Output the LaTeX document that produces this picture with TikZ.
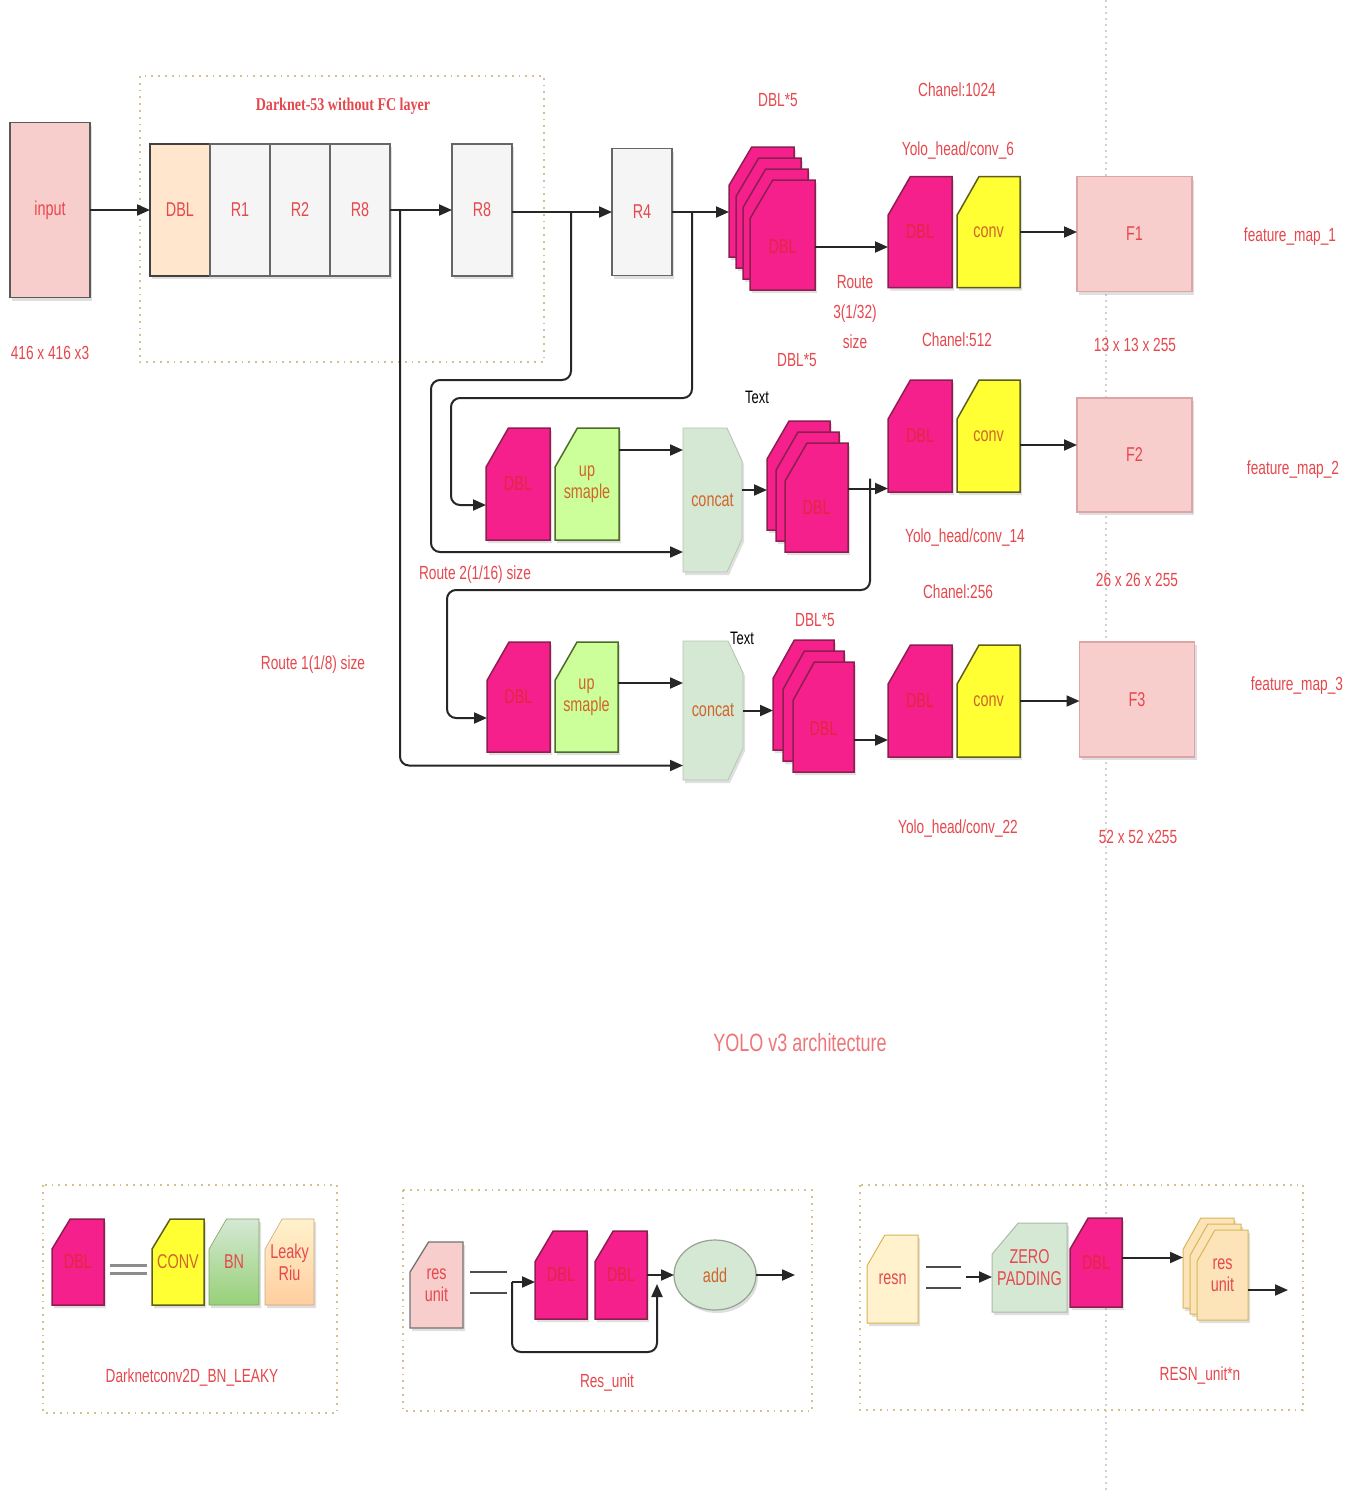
\documentclass[tikz,border=0pt]{standalone}
\usepackage{fontspec}
\setmainfont{Liberation Sans}[FakeStretch=0.72]
\newfontfamily\serifcond{Liberation Serif}[FakeStretch=0.78]
\usetikzlibrary{arrows.meta, positioning, calc, shapes.geometric, shadows}

\definecolor{dblpink}{HTML}{F5208C}
\definecolor{dblline}{HTML}{8C1F50}
\definecolor{dbltxt}{HTML}{E3263F}
\definecolor{convyel}{HTML}{FFFF33}
\definecolor{convline}{HTML}{5E5E1C}
\definecolor{upgreen}{HTML}{CCFF99}
\definecolor{upline}{HTML}{4F6B2A}
\definecolor{catgreen}{HTML}{D5E8D4}
\definecolor{fpink}{HTML}{F8CECC}
\definecolor{fline}{HTML}{DDA5A5}
\definecolor{peach}{HTML}{FFE6CC}
\definecolor{cellgray}{HTML}{F5F5F5}
\definecolor{lblred}{HTML}{E5484D}
\definecolor{txtorange}{HTML}{D0652A}
\definecolor{dotcol}{HTML}{D2C08E}
\definecolor{resnyel}{HTML}{FFF2CC}
\definecolor{resnline}{HTML}{D6B656}
\definecolor{bntop}{HTML}{D5E8D4}
\definecolor{bnbot}{HTML}{97D077}
\definecolor{lktop}{HTML}{FFF2CC}
\definecolor{lkbot}{HTML}{FFCE9F}
\definecolor{ruyel}{HTML}{FCE4B8}

\tikzset{
  arr/.style={-{Triangle[length=13pt,width=11pt]}, line width=2pt, draw=black!85},
  wire/.style={arr, rounded corners=9pt},
  shd/.style={drop shadow={opacity=0.25, shadow xshift=2pt, shadow yshift=-3pt}},
  lbl/.style={text=lblred, font=\fontsize{19}{22}\selectfont, align=center},
  boxtxt/.style={font=\fontsize{20}{22}\selectfont, align=center, inner sep=0pt, outer sep=0pt},
  cell/.style={boxtxt, shd, draw=black!60, line width=1.3pt, minimum width=60pt, minimum height=132pt, text=lblred},
  dblsh/.style={shd, fill=dblpink, draw=dblline, line width=1.5pt},
  convsh/.style={shd, fill=convyel, draw=convline, line width=1.5pt},
  upsh/.style={shd, fill=upgreen, draw=upline, line width=1.5pt},
  fbox/.style={boxtxt, shd, fill=fpink, draw=fline, line width=1.3pt, minimum width=115pt, minimum height=115pt, text=lblred},
  frame/.style={draw=dotcol, line width=1.8pt, dash pattern=on 1.8pt off 5pt},
  eqline/.style={line width=2.4pt, draw=black!70},
}

% box with the top left corner cut off: name, x, y, w, h, path style, text style, text
\newcommand{\cutbox}[8]{%
  \draw[#6] ({#2-#4/2},{#3-#5/2+0.35*#5}) -- ({#2-#4/2+0.35*#4},{#3-#5/2})
    -- ({#2+#4/2},{#3-#5/2}) -- ({#2+#4/2},{#3+#5/2}) -- ({#2-#4/2},{#3+#5/2}) -- cycle;
  \node[boxtxt, #7, minimum width=#4pt, minimum height=#5pt] (#1) at (#2,#3) {#8};
}
% concat block: name, x, y, w, h
\newcommand{\catbox}[5]{%
  \draw[shd, fill=catgreen, draw=catgreen!85!black, line width=0.8pt]
    ({#2-#4/2},{#3-#5/2}) -- ({#2+#4/2-15},{#3-#5/2}) -- ({#2+#4/2},{#3-#5/2+0.23*#5})
    -- ({#2+#4/2},{#3+#5/2-0.23*#5}) -- ({#2+#4/2-15},{#3+#5/2}) -- ({#2-#4/2},{#3+#5/2}) -- cycle;
  \node[boxtxt, text=txtorange, minimum width=#4pt, minimum height=#5pt] (#1) at (#2,#3) {concat};
}

\begin{document}
\begin{tikzpicture}[x=1pt, y=-1pt]
  \useasboundingbox[fill=white] (0,0) rectangle (1354,1492);
  \draw[black!18, line width=1.2pt, dash pattern=on 2pt off 4pt] (1106,0) -- (1106,1492);

  % backbone
  \draw[frame] (140,76) rectangle (544,362);
  \node[text=lblred, font=\serifcond\bfseries\fontsize{18}{20}\selectfont] (dktitle) at (343,106) {Darknet-53 without FC layer};
  \node[boxtxt, shd, draw=black!65, line width=1.6pt, fill=fpink, minimum width=80pt, minimum height=175pt, text=lblred] (inp) at (50,210) {input};
  \node[lbl] (inpsize) at (50,353) {416 x 416 x3};
  \node[cell, fill=peach, draw=black!75] (dk0) at (180,210) {DBL};
  \node[cell, fill=cellgray] (dk1) at (240,210) {R1};
  \node[cell, fill=cellgray] (dk2) at (300,210) {R2};
  \node[cell, fill=cellgray] (dk3) at (360,210) {R8};
  \node[cell, fill=cellgray] (r8b) at (482,210) {R8};
  \node[cell, fill=cellgray, minimum height=127pt] (r4) at (642,212) {R4};

  % scale 1 (13x13)
  \cutbox{s1d}{761.5}{202}{65}{110}{dblsh}{}{}
  \cutbox{s1c}{768.5}{213}{65}{110}{dblsh}{}{}
  \cutbox{s1b}{775.5}{224}{65}{110}{dblsh}{}{}
  \cutbox{s1a}{782.5}{235}{65}{110}{dblsh}{text=dbltxt, yshift=-12pt}{DBL}
  \cutbox{h1d}{920}{232}{64}{111}{dblsh}{text=dbltxt}{DBL}
  \cutbox{h1c}{988.5}{232}{63}{111}{convsh}{text=txtorange}{conv}
  \node[fbox] (f1) at (1134.5,234) {F1};
  \node[lbl] (dbl5a) at (778,100) {DBL*5};
  \node[lbl] (ch1) at (957,90) {Chanel:1024};
  \node[lbl] (yh1) at (958,150) {Yolo\_head/conv\_6};
  \node[lbl, font=\fontsize{19}{30}\selectfont] (rt3) at (855,312) {Route\\3(1/32)\\size};
  \node[lbl] (sz1) at (1135,345) {13 x 13 x 255};
  \node[lbl] (fm1) at (1290,237) {feature\_map\_1};

  % scale 2 (26x26)
  \cutbox{d2}{518}{484}{64}{112}{dblsh}{text=dbltxt}{DBL}
  \cutbox{u2}{587}{484}{64}{112}{upsh}{text=txtorange}{up\\smaple}
  \catbox{c2}{712.5}{500}{59}{144}
  \cutbox{s2c}{798.5}{475.5}{63}{109}{dblsh}{}{}
  \cutbox{s2b}{807.5}{486.5}{63}{109}{dblsh}{}{}
  \cutbox{s2a}{816.5}{497.5}{63}{109}{dblsh}{text=dbltxt, yshift=-10pt}{DBL}
  \cutbox{h2d}{920}{436}{64}{112}{dblsh}{text=dbltxt}{DBL}
  \cutbox{h2c}{988.5}{436}{63}{112}{convsh}{text=txtorange}{conv}
  \node[fbox, minimum height=114pt] (f2) at (1134.5,455) {F2};
  \node[lbl] (ch2) at (957,340) {Chanel:512};
  \node[lbl] (dbl5b) at (797,360) {DBL*5};
  \node[font=\fontsize{18}{20}\selectfont] (tx2) at (757,397) {Text};
  \node[lbl] (yh2) at (965,537) {Yolo\_head/conv\_14};
  \node[lbl] (rt2) at (475,575) {Route 2(1/16) size};
  \node[lbl] (sz2) at (1137,580) {26 x 26 x 255};
  \node[lbl] (fm2) at (1293,470) {feature\_map\_2};

  % scale 3 (52x52)
  \cutbox{d3}{518.5}{697}{63}{110}{dblsh}{text=dbltxt}{DBL}
  \cutbox{u3}{586.5}{697}{63}{110}{upsh}{text=txtorange}{up\\smaple}
  \catbox{c3}{713}{710.5}{60}{139}
  \cutbox{s3c}{803.5}{695}{61}{110}{dblsh}{}{}
  \cutbox{s3b}{813.5}{706}{61}{110}{dblsh}{}{}
  \cutbox{s3a}{823.5}{717}{61}{110}{dblsh}{text=dbltxt, yshift=-12pt}{DBL}
  \cutbox{h3d}{920}{701}{64}{112}{dblsh}{text=dbltxt}{DBL}
  \cutbox{h3c}{988.5}{701}{63}{112}{convsh}{text=txtorange}{conv}
  \node[fbox] (f3) at (1137,699.5) {F3};
  \node[lbl] (ch3) at (958,592) {Chanel:256};
  \node[lbl] (dbl5c) at (815,620) {DBL*5};
  \node[font=\fontsize{18}{20}\selectfont] (tx3) at (742,638) {Text};
  \node[lbl] (rt1) at (313,665) {Route 1(1/8) size};
  \node[lbl] (yh3) at (958,828) {Yolo\_head/conv\_22};
  \node[lbl] (sz3) at (1138,837) {52 x 52 x255};
  \node[lbl] (fm3) at (1297,686) {feature\_map\_3};

  % main flow
  \draw[arr] (inp) -- (dk0);
  \draw[arr] (dk3) -- (r8b);
  \draw[arr] (r8b.east |- r4) -- (r4);
  \draw[arr] (r4) -- (r4 -| s1d.west);
  \draw[arr] (s1a) -- (s1a -| h1d.west);
  \draw[arr] (h1c) -- (h1c -| f1.west);
  \draw[arr] ([yshift=34pt]u2.east) -- ([yshift=34pt]u2.east -| c2.west);
  \draw[arr] ([yshift=10pt]c2.east) -- ([yshift=10pt]c2.east -| s2c.west);
  \draw[arr] ([yshift=19pt]s2a.east) -- ([yshift=19pt]s2a.east -| h2d.west);
  \draw[arr] ([yshift=-9pt]h2c.east) -- ([yshift=-9pt]h2c.east -| f2.west);
  \draw[arr] ([yshift=14pt]u3.east) -- ([yshift=14pt]u3.east -| c3.west);
  \draw[arr] (c3.east) -- (c3.east -| s3c.west);
  \draw[arr] ([yshift=-11pt]s3a.east) -- ([yshift=-11pt]s3a.east -| h3d.west);
  \draw[arr] (h3c) -- (h3c -| f3.west);

  % routes
  \coordinate (j1) at (400,210);
  \coordinate (j2) at (571,212);
  \coordinate (j3) at (692,212);
  \coordinate (j4) at (870,478.5);
  \draw[wire] (j1) |- ([yshift=-55pt]c3.west);
  \draw[wire] (j2) |- (431,380) |- ([yshift=-52pt]c2.west);
  \draw[wire] (j3) |- (451,398) |- ([yshift=-21pt]d2.west);
  \draw[wire] (j4) |- (447,590) |- ([yshift=-21pt]d3.west);

  \node[text=lblred!75, font=\fontsize{25}{28}\selectfont] (title) at (800,1043) {YOLO v3 architecture};

  % DBL legend
  \draw[frame] (43,1185) rectangle (337,1413);
  \cutbox{pd}{78}{1262}{52}{86}{dblsh}{text=dbltxt}{DBL}
  \cutbox{pconv}{178}{1262}{52}{86}{convsh}{text=txtorange}{CONV}
  \cutbox{pbn}{234}{1262}{50}{86}{shd, draw=bnbot!80!black, line width=0.6pt, top color=bntop, bottom color=bnbot}{text=lblred}{BN}
  \cutbox{plk}{289.5}{1262}{49}{86}{shd, draw=lkbot!80!black, line width=0.6pt, top color=lktop, bottom color=lkbot}{text=lblred}{Leaky\\Riu}
  \draw[eqline, black!45, line width=3pt] ([xshift=6pt,yshift=-3pt]pd.east) -- ([xshift=-5pt,yshift=-3pt]pconv.west);
  \draw[eqline, black!45, line width=3pt] ([xshift=6pt,yshift=-11pt]pd.east) -- ([xshift=-5pt,yshift=-11pt]pconv.west);
  \node[lbl] (pcap) at (192,1377) {Darknetconv2D\_BN\_LEAKY};

  % res unit legend
  \draw[frame] (403,1190) rectangle (812,1411);
  \cutbox{ru}{436.5}{1285}{53}{86}{shd, fill=fpink, draw=black!55, line width=1.3pt}{text=lblred}{res\\unit}
  \cutbox{rd1}{561}{1275}{52}{88}{dblsh}{text=dbltxt}{DBL}
  \cutbox{rd2}{621}{1275}{52}{88}{dblsh}{text=dbltxt}{DBL}
  \node[ellipse, boxtxt, shd, fill=catgreen, draw=catgreen!70!black, line width=1.2pt, minimum width=82pt, minimum height=70pt, text=txtorange] (add) at (715,1275) {add};
  \draw[eqline] ([xshift=7pt,yshift=13pt]ru.east) -- ++(37pt,0);
  \draw[eqline] ([xshift=7pt,yshift=-8pt]ru.east) -- ++(37pt,0);
  \coordinate (rs) at (512,1282);
  \coordinate (rj) at (657,1284);
  \coordinate (aout) at (795,1275);
  \draw[arr] (rs) -- (rs -| rd1.west);
  \draw[arr, rounded corners=9pt] (rs) |- (rj |- 0,1352) -- (rj);
  \draw[arr] (rd2) -- (add);
  \draw[arr] (add) -- (aout);
  \node[lbl] (rucap) at (607,1382) {Res\_unit};

  % resn legend
  \draw[frame] (860,1185) rectangle (1303,1410);
  \cutbox{rn}{892.5}{1279}{51}{88}{shd, fill=resnyel, draw=resnline, line width=1pt}{text=lblred}{resn}
  \cutbox{zp}{1029.5}{1267.5}{75}{89}{shd, fill=catgreen, draw=catgreen!80!black, line width=1pt}{text=lblred}{ZERO\\PADDING}
  \cutbox{zd}{1096}{1262.5}{52}{89}{dblsh}{text=dbltxt}{DBL}
  \cutbox{uc}{1208.5}{1263}{51}{90}{shd, fill=ruyel, draw=resnline, line width=1pt}{}{}
  \cutbox{ub}{1215.5}{1269}{51}{90}{shd, fill=ruyel, draw=resnline, line width=1pt}{}{}
  \cutbox{ua}{1222.5}{1275}{51}{90}{shd, fill=ruyel, draw=resnline, line width=1pt}{text=lblred}{res\\unit}
  \draw[eqline] ([xshift=8pt,yshift=12pt]rn.east) -- ++(35pt,0);
  \draw[eqline] ([xshift=8pt,yshift=-9pt]rn.east) -- ++(35pt,0);
  \coordinate (zs) at (966,1277);
  \coordinate (rout) at (1288,1290);
  \draw[arr] (zs) -- (zs -| zp.west);
  \draw[arr] ([yshift=5pt]zd.east) -- ([yshift=5pt]zd.east -| uc.west);
  \draw[arr] ([yshift=-15pt]ua.east) -- (rout);
  \node[lbl] (rncap) at (1200,1375) {RESN\_unit*n};
\end{tikzpicture}
\end{document}
